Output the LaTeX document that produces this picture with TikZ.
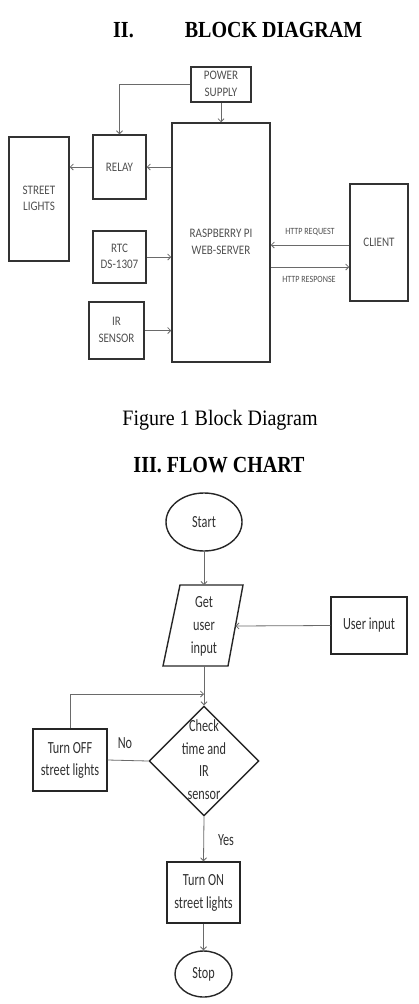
\documentclass[tikz,border=0pt]{standalone}
\usepackage{fontspec}
\usepackage{graphicx}
\usetikzlibrary{arrows.meta,shapes.geometric}
\setmainfont{Liberation Serif}
\newfontfamily\calibri{Carlito}
\newcommand{\hs}[2]{\scalebox{#1}[1]{\begin{tabular}{@{}c@{}}#2\end{tabular}}}
\newcommand{\hx}[2]{\scalebox{#1}[1]{#2}}
\definecolor{txt}{HTML}{505050}
\definecolor{ftxt}{HTML}{303030}
\definecolor{edge}{HTML}{333333}
\definecolor{connc}{HTML}{6A6A6A}
\tikzset{
  blk/.style={draw=edge, line width=1.5pt, inner sep=0pt, font=\calibri\fontsize{13}{16.5}\selectfont, text=txt},
  flow/.style={draw=black!85, line width=1.4pt, inner sep=0pt, font=\calibri\fontsize{17}{22.7}\selectfont, text=ftxt},
  conn/.style={draw=connc, line width=0.8pt, -{Straight Barb[length=3pt,width=6pt]}},
  plain/.style={draw=connc, line width=0.8pt},
  lbl/.style={font=\calibri\fontsize{17}{22.7}\selectfont, text=ftxt, inner sep=0pt},
  http/.style={font=\calibri\fontsize{9.5}{10}\selectfont, text=txt, inner sep=0pt},
  title/.style={font=\fontsize{23}{26}\selectfont\bfseries, inner sep=0pt, anchor=base},
  capt/.style={font=\fontsize{22}{26}\selectfont, inner sep=0pt, anchor=base},
}
\begin{document}
\begin{tikzpicture}[x=1pt,y=-1pt]
\useasboundingbox (0,0) rectangle (418,1004);
% titles
\node[title, anchor=base west] (t2num) at (113,37) {\hx{0.87}{II.}};
\node[title] (t2) at (273.5,37) {\hx{0.87}{BLOCK DIAGRAM}};
\node[capt] (cap) at (220,425) {\hx{0.91}{Figure 1 Block Diagram}};
\node[title] (t3) at (219,472) {\hx{0.87}{III. FLOW CHART}};
% block diagram
\node[blk, minimum width=60, minimum height=35] (power) at (221,84.5) {\hs{0.85}{POWER\\SUPPLY}};
\node[blk, minimum width=53, minimum height=64] (relay) at (119.5,167) {\hx{0.85}{RELAY}};
\node[blk, minimum width=60, minimum height=124] (street) at (39,199) {\hs{0.85}{STREET\\LIGHTS}};
\node[blk, minimum width=53, minimum height=52] (rtc) at (119.5,257) {\hs{0.85}{RTC\\DS-1307}};
\node[blk, minimum width=55, minimum height=57] (ir) at (116.5,330.5) {\hs{0.85}{IR\\SENSOR}};
\node[blk, minimum width=98, minimum height=239] (rpi) at (221,242.5) {\hs{0.85}{RASPBERRY PI\\WEB-SERVER}};
\node[blk, minimum width=58, minimum height=117] (client) at (379,242.5) {\hx{0.85}{CLIENT}};
\draw[conn] (power.west) -| (relay.north);
\draw[conn] (power.south) -- (rpi.north);
\draw[conn] (rpi.west |- relay.east) -- (relay.east);
\draw[conn] (relay.west) -- (street.east |- relay.west);
\draw[conn] (rtc.east) -- (rpi.west |- rtc.east);
\draw[conn] (ir.east) -- (rpi.west |- ir.east);
\path ([yshift=-2.5pt]client.west) coordinate (rqa);
\path ([yshift=-24.5pt]rpi.east) coordinate (rsa);
\draw[conn] (rqa) -- (rpi.east |- rqa);
\draw[conn] (rsa) -- (client.west |- rsa);
\node[http] (lreq) at (310,232) {\hx{0.85}{HTTP REQUEST}};
\node[http] (lres) at (309,279) {\hx{0.85}{HTTP RESPONSE}};
% flow chart
\node[flow, ellipse, minimum width=76, minimum height=58] (start) at (204,522) {\hx{0.72}{Start}};
\coordinate (g1) at (180,585);
\coordinate (g2) at (243,585);
\coordinate (g3) at (228,666);
\coordinate (g4) at (163,666);
\draw[draw=black!85, line width=1.4pt] (g1) -- (g2) -- (g3) -- (g4) -- cycle;
\node[lbl] (getin) at (204,626) {\hs{0.72}{Get\\user\\input}};
\coordinate (gtop) at (204,585);
\coordinate (gbot) at (204,666);
\coordinate (gright) at (235.5,626);
\node[flow, minimum width=76, minimum height=57] (user) at (369,625.5) {\hx{0.72}{User input}};
\node[flow, diamond, minimum width=110, minimum height=110] (dia) at (204,761) {};
\node[lbl] (diatext) at (dia) {\hs{0.72}{Check\\time and\\IR\\sensor}};
\node[flow, minimum width=74, minimum height=62] (off) at (70,760) {\hs{0.72}{Turn OFF\\street lights}};
\node[flow, minimum width=73, minimum height=61] (on) at (203.5,892.5) {\hs{0.72}{Turn ON\\street lights}};
\node[flow, ellipse, minimum width=57, minimum height=46] (stop) at (203.5,974) {\hx{0.72}{Stop}};
\coordinate (merge) at (204,694);
\draw[conn] (start.south) -- (gtop);
\draw[conn] (user.west) -- (gright);
\draw[conn] (gbot) -- (dia.north);
\draw[conn] (off.north) |- (merge);
\draw[plain] (dia.west) -- (off.east);
\draw[conn] (dia.south) -- (on.north);
\draw[conn] (on.south) -- (stop.north);
\node[lbl] (no) at (125,743) {\hx{0.72}{No}};
\node[lbl] (yes) at (226,840) {\hx{0.72}{Yes}};
\end{tikzpicture}
\end{document}
